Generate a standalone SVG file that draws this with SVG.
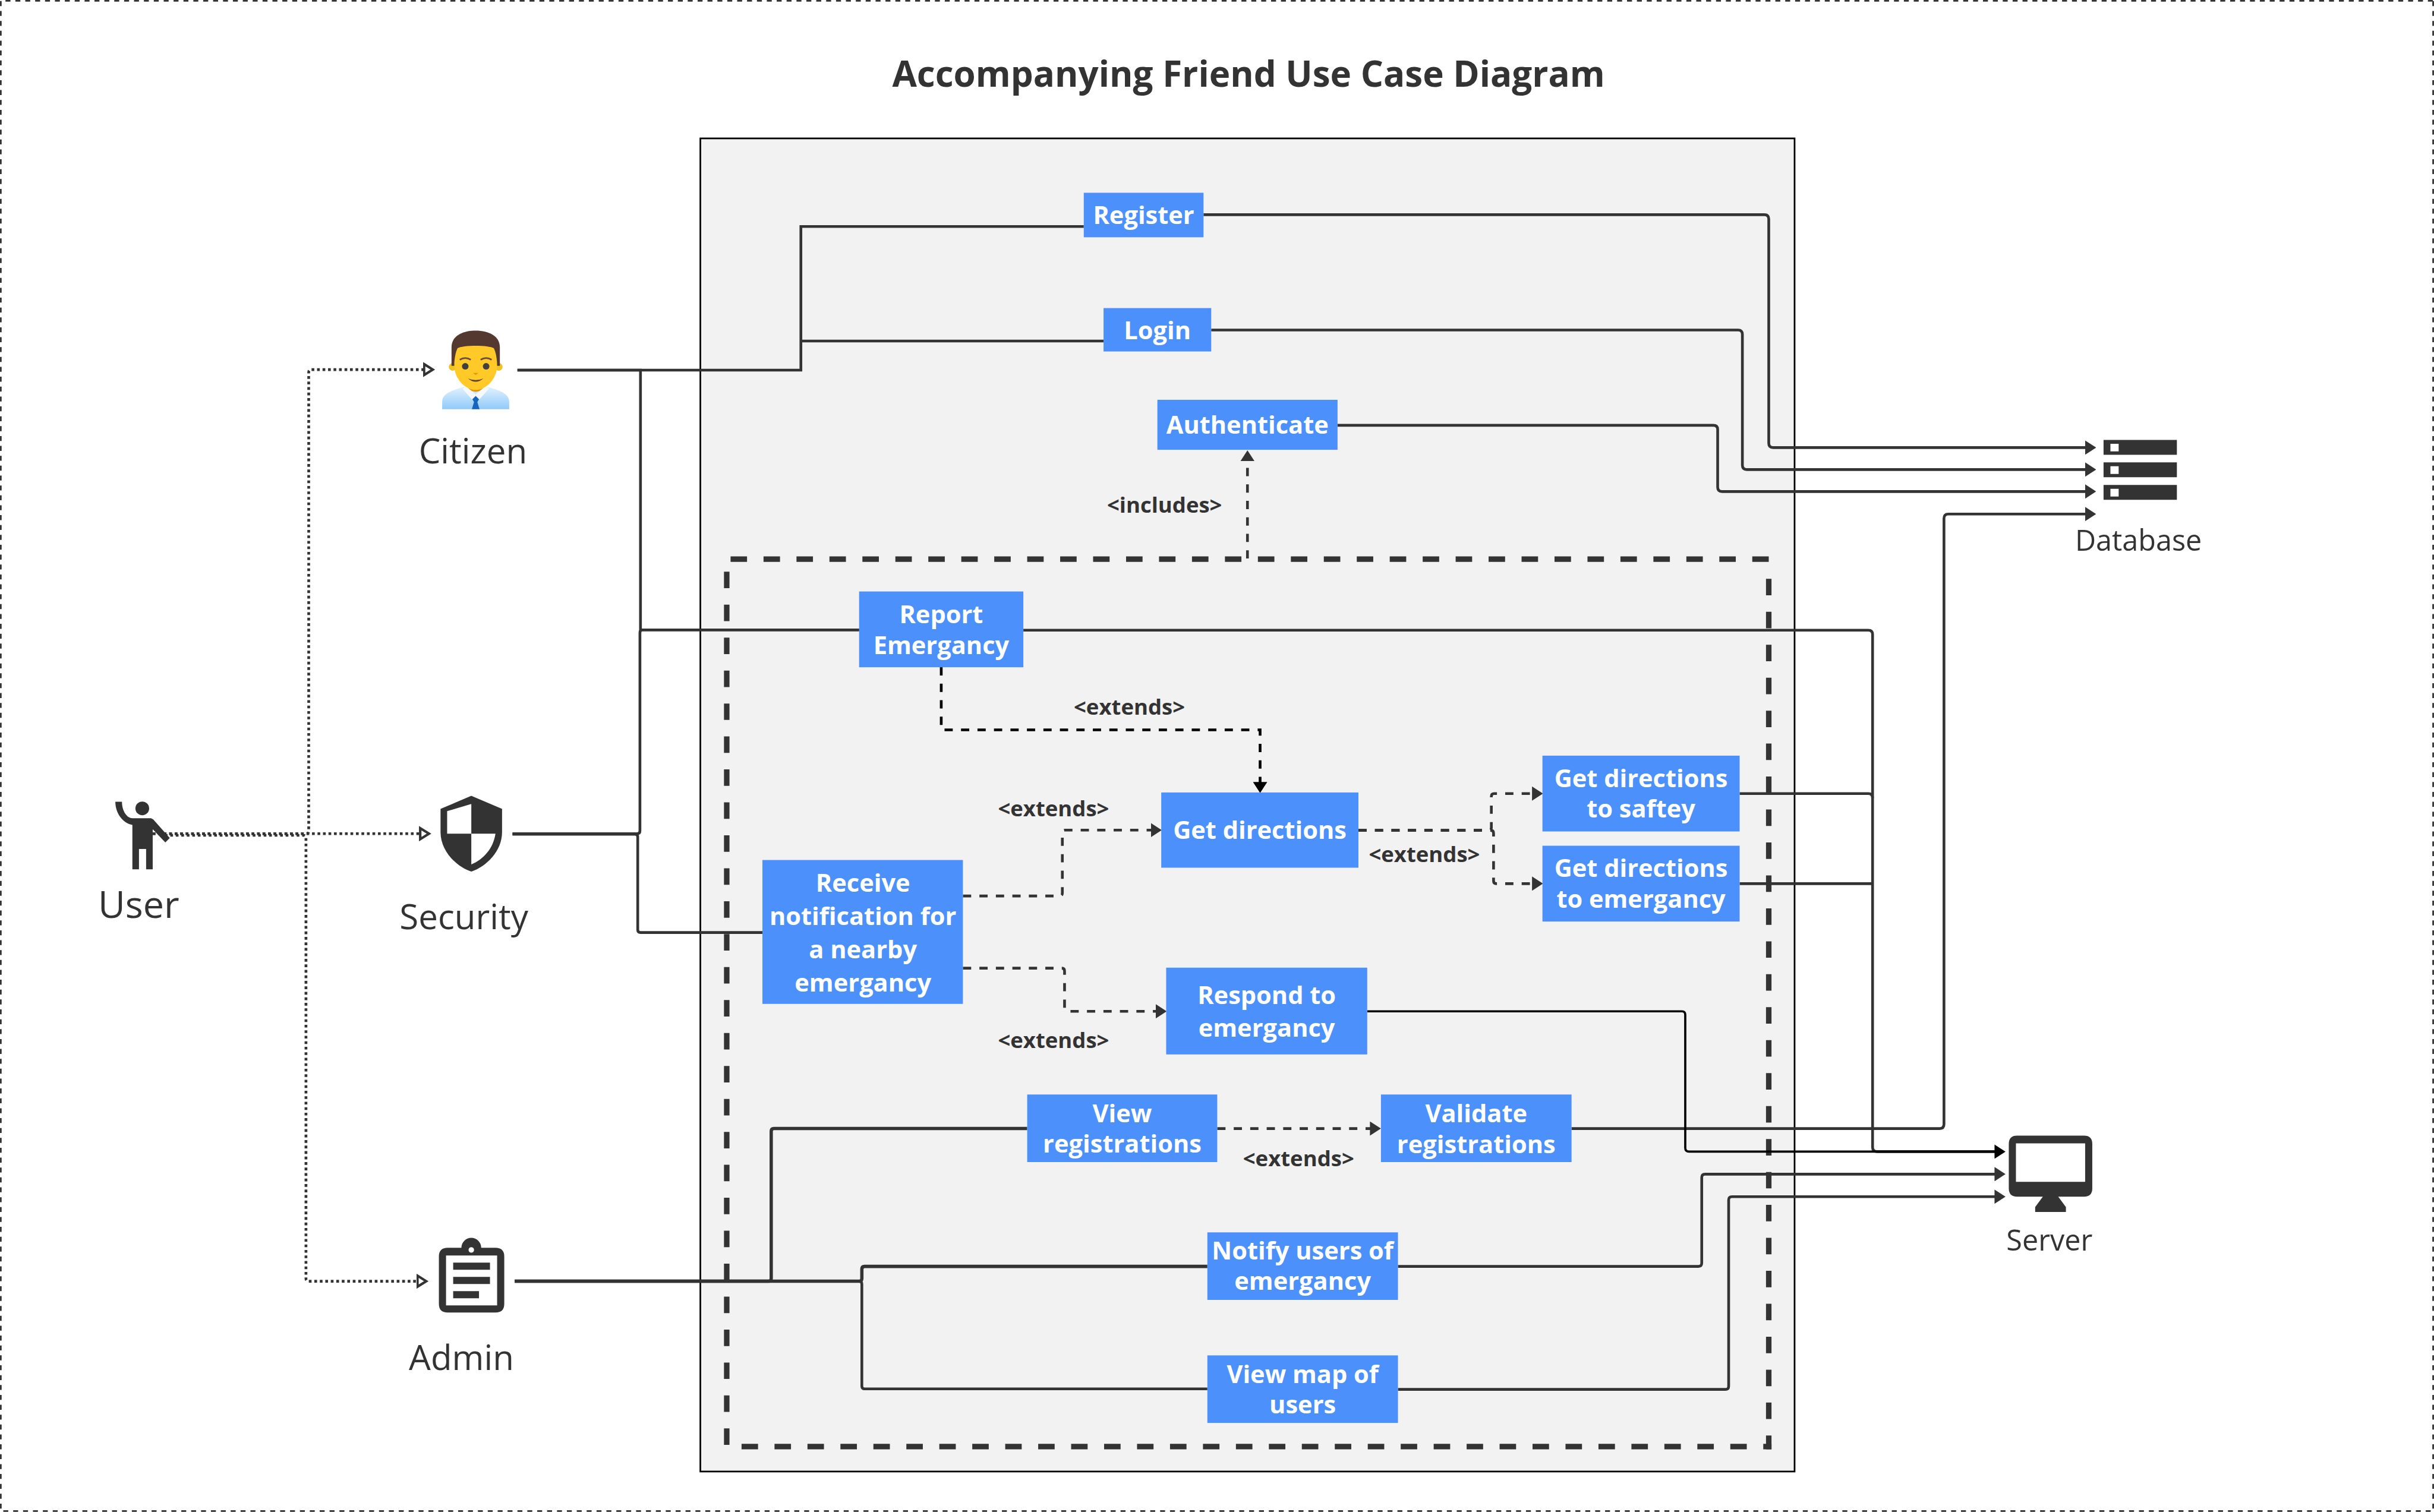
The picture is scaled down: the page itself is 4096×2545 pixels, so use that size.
<svg xmlns="http://www.w3.org/2000/svg" width="4096" height="2545" viewBox="0 0 4096 2545">
<style>
text{font-family:"Open Sans","Noto Sans","Liberation Sans",sans-serif;text-anchor:middle}
.title{font-size:65px;font-weight:700;fill:#333}
.actor{font-size:63px;fill:#333}
.res{font-size:52.5px;fill:#333}
.uc{font-size:45px;font-weight:700;fill:#fff}
.rel{font-size:39.5px;font-weight:700;fill:#333}
.box{fill:#4c91fb}
.ink{fill:#333}
.c{fill:none;stroke:#333;stroke-width:5}
.a{marker-end:url(#tri)}
.k{stroke:#000;marker-end:url(#triK)}
.d{stroke-dasharray:15 15}
.o{stroke-dasharray:5 5;marker-end:url(#hollow)}
.fr{fill:none;stroke:#333;stroke-width:3;stroke-dasharray:9 9}
.bd{fill:none;stroke:#333;stroke-width:10;stroke-dasharray:30 30}
</style>
<defs>
<marker id="tri" markerUnits="userSpaceOnUse" markerWidth="20" markerHeight="26" viewBox="0 0 20 26" refX="5" refY="13" orient="auto"><path d="M0,0L20,13L0,26Z" fill="#333"/></marker>
<marker id="triK" markerUnits="userSpaceOnUse" markerWidth="20" markerHeight="26" viewBox="0 0 20 26" refX="5" refY="13" orient="auto"><path d="M0,0L20,13L0,26Z" fill="#000"/></marker>
<marker id="hollow" markerUnits="userSpaceOnUse" markerWidth="22" markerHeight="28" viewBox="0 0 22 28" refX="1" refY="14" orient="auto"><path d="M2,4L18,14L2,24Z" fill="#fff" stroke="#333" stroke-width="4.5"/></marker>
<linearGradient id="shirt" x1="0" y1="0" x2="0" y2="1"><stop offset="0" stop-color="#e3f2fd"/><stop offset="1" stop-color="#90caf9"/></linearGradient>
</defs>
<g transform="scale(0.92438)">
<rect width="4431" height="2753" fill="#fff"/>
<g id="frame">
<path class="fr" d="M10,1.5H4431"/><path class="fr" d="M1.5,2V2753"/>
<path class="fr" d="M4429.5,2V2753"/><path class="fr" d="M6,2751.5H4431"/>
</g>
<text class="title" x="2273" y="158">Accompanying Friend Use Case Diagram</text>
<g id="system">
<rect x="1275" y="252" width="1992" height="2427.5" fill="#f2f2f2" stroke="#000" stroke-width="3"/>
<path class="bd" d="M1330,1018H3225"/><path class="bd" d="M1323,1041V2639"/>
<path class="bd" d="M3220,1054V2639"/><path class="bd" d="M1350,2634H3225"/>
</g>
<g id="connectors">
<path class="c o" d="M278,1518H557Q562,1518 562,1513V678Q562,673 567,673H771"/>
<path class="c o" d="M278,1518H764"/>
<path class="c o" d="M300,1521H552Q557,1521 557,1526V2328Q557,2333 562,2333H759"/>
<path class="c" d="M942,674H1458V412.500H1973M1458,621H2009"/>
<path class="c" d="M942,674H1166V1147H1564"/>
<path class="c" d="M933,1518H1160Q1165,1518 1165,1513V1152Q1165,1147 1170,1147H1564"/>
<path class="c" d="M933,1519H1156Q1161,1519 1161,1524V1693Q1161,1698 1166,1698H1388"/>
<path class="c" style="stroke-width:6" d="M937,2333H1399Q1404,2333 1404,2328V2060Q1404,2055 1409,2055H1870"/>
<path class="c" style="stroke-width:6" d="M937,2333H1564Q1569,2333 1569,2328V2311Q1569,2306 1574,2306H2198"/>
<path class="c" d="M1400,2333H1564Q1569,2333 1569,2338V2524Q1569,2529 1574,2529H2198"/>
<path class="c a" d="M2191,391H3212Q3220,391 3220,399V807Q3220,815 3228,815H3801"/>
<path class="c a" d="M2205,601H3164Q3172,601 3172,609V847Q3172,855 3180,855H3801"/>
<path class="c a" d="M2435,774.500H3119Q3127,774.500 3127,782V887Q3127,895 3135,895H3801"/>
<path class="c a" d="M2861,2055H3531Q3539,2055 3539,2047V944Q3539,936 3547,936H3801"/>
<path class="c" d="M1863,1147.500H3401Q3409,1147.500 3409,1155V2089Q3409,2097 3417,2097H3636"/>
<path class="c" d="M3167,1445H3401Q3409,1445 3409,1453"/>
<path class="c" d="M3167,1609H3409"/>
<path class="c k" style="stroke-width:4" d="M2489,1841.500H3062Q3068,1841.500 3068,1848V2090Q3068,2097 3075,2097H3636"/>
<path class="c a" d="M2545,2306H3092Q3098,2306 3098,2300V2144Q3098,2138 3104,2138H3636"/>
<path class="c a" d="M2545,2530H3141Q3147,2530 3147,2524V2185Q3147,2179 3153,2179H3636"/>
<path class="c d a" d="M2271,1017V835"/>
<path class="c d k" d="M1713.500,1215V1329H2294V1429"/>
<path class="c d a" d="M1753,1631.500H1929Q1934,1631.500 1934,1626V1517Q1934,1511.500 1939,1511.500H2100"/>
<path class="c d a" d="M1753,1763H1933Q1938,1763 1938,1768V1836Q1938,1841.500 1943,1841.500H2109"/>
<path class="c d a" d="M2473,1512H2710Q2715,1512 2715,1507V1450Q2715,1445 2720,1445H2794"/>
<path class="c d a" d="M2473,1512H2714Q2719,1512 2719,1517V1604Q2719,1609 2724,1609H2794"/>
<path class="c d a" d="M2216,2055H2499"/>
</g>
<g id="user">
<path class="ink" d="M241,1490H275L279,1492L309,1526L301,1534L278,1510V1583H266V1546H253V1583H241V1502C225,1500 210,1482 210,1460H222C222,1478 232,1490 241,1490Z"/>
<circle class="ink" cx="259" cy="1472" r="12.500"/>
<text class="actor" style="font-size:68px" x="252.500" y="1671">User</text>
</g>
<g id="citizen">
<path d="M805,745V731C805,716 825,710 846,704L866,712L886,704C907,710 927,716 927,731V745Z" fill="url(#shirt)"/>
<path d="M847,703L866,718L885,703L890,708L873,727H859L842,708Z" fill="#f5f9fd"/>
<path d="M851,690H881V705Q866,722 851,705Z" fill="#e59600"/>
<path d="M866,721L872,727L869,732L873,745H859L863,732L860,727Z" fill="#1565c0"/>
<circle cx="824" cy="668" r="7" fill="#edc422"/><circle cx="908" cy="668" r="7" fill="#edc422"/>
<path d="M827,640C827,620 905,620 905,640V665C905,690 885,710 866,710C847,710 827,690 827,665Z" fill="#ffca28"/>
<path d="M822,666V632C822,612 842,602 866,602C890,602 910,612 910,632V666H905C905,655 903,642 899,634C890,628 842,628 833,634C829,642 827,655 827,666Z" fill="#543930"/>
<circle cx="847" cy="667" r="6" fill="#404040"/><circle cx="885" cy="667" r="6" fill="#404040"/>
<path d="M837,655Q847,649 857,655M875,655Q885,649 895,655" fill="none" stroke="#6d4c41" stroke-width="3"/>
<path d="M852,689Q866,695 880,689Q866,701 852,689Z" fill="#5d4037"/>
<path d="M861,679H871L866,683Z" fill="#e59600"/>
<text class="actor" x="861" y="844">Citizen</text>
</g>
<g id="security">
<path class="ink" d="M858,1449L914,1473V1515C914,1550 885,1578 858,1587C831,1578 802,1550 802,1515V1473Z"/>
<path d="M814,1477L858,1464V1518H814ZM858,1518H902C898,1545 880,1565 858,1574Z" fill="#fff"/>
<text class="actor" x="844.500" y="1692">Security</text>
</g>
<g id="admin">
<path class="ink" fill-rule="evenodd" d="M815,2272H840A18,18 0 0 1 876,2272H902Q918,2272 918,2288V2374Q918,2390 902,2390H815Q799,2390 799,2374V2288Q799,2272 815,2272ZM812,2286V2377H905V2286ZM858,2271A5,5 0 1 0 858,2281A5,5 0 1 0 858,2271Z"/>
<path class="ink" d="M825,2299H892V2312H825ZM825,2325H892V2338H825ZM825,2351H872V2364H825Z"/>
<text class="actor" x="840" y="2495">Admin</text>
</g>
<g id="database">
<path class="ink" fill-rule="evenodd" d="M3829.500,801H3963V828H3829.500ZM3842,808V822H3857V808ZM3829.500,842H3963V869H3829.500ZM3842,849V863H3857V849ZM3829.500,883H3963V910H3829.500ZM3842,890V904H3857V890Z"/>
<text class="res" x="3893" y="1003">Database</text>
</g>
<g id="server">
<path class="ink" fill-rule="evenodd" d="M3672,2068H3794Q3809,2068 3809,2083V2164Q3809,2179 3794,2179H3747L3761,2198V2207H3705V2198L3719,2179H3672Q3657,2179 3657,2164V2083Q3657,2068 3672,2068ZM3670,2082V2152H3796V2082Z"/>
<text class="res" x="3731" y="2277">Server</text>
</g>
<g id="uc-register"><rect class="box" x="1973" y="351" width="218" height="81"/><text class="uc" x="2082" y="408">Register</text></g>
<g id="uc-login"><rect class="box" x="2009" y="561" width="196" height="79"/><text class="uc" x="2107" y="618">Login</text></g>
<g id="uc-authenticate"><rect class="box" x="2107" y="728" width="328" height="91"/><text class="uc" x="2271" y="790">Authenticate</text></g>
<g id="uc-report"><rect class="box" x="1564" y="1077" width="299" height="138"/><text class="uc" x="1713.500" y="1135">Report</text><text class="uc" x="1713.500" y="1191">Emergancy</text></g>
<g id="uc-receive"><rect class="box" x="1388" y="1566" width="365" height="262"/><text class="uc" x="1571" y="1624">Receive</text><text class="uc" x="1571" y="1684">notification for</text><text class="uc" x="1571" y="1745">a nearby</text><text class="uc" x="1571" y="1805">emergancy</text></g>
<g id="uc-directions"><rect class="box" x="2114" y="1443" width="359" height="137"/><text class="uc" x="2293.500" y="1528">Get directions</text></g>
<g id="uc-safety"><rect class="box" x="2808" y="1376" width="359" height="138"/><text class="uc" x="2987.500" y="1433">Get directions</text><text class="uc" x="2987.500" y="1489">to saftey</text></g>
<g id="uc-to-emergency"><rect class="box" x="2808" y="1540" width="359" height="138"/><text class="uc" x="2987.500" y="1597">Get directions</text><text class="uc" x="2987.500" y="1653">to emergancy</text></g>
<g id="uc-respond"><rect class="box" x="2123" y="1762" width="366" height="158"/><text class="uc" x="2306" y="1828">Respond to</text><text class="uc" x="2306" y="1888">emergancy</text></g>
<g id="uc-view"><rect class="box" x="1870" y="1993" width="346" height="123"/><text class="uc" x="2043" y="2043">View</text><text class="uc" x="2043" y="2099">registrations</text></g>
<g id="uc-validate"><rect class="box" x="2514" y="1993" width="347" height="123"/><text class="uc" x="2687.500" y="2044">Validate</text><text class="uc" x="2687.500" y="2100">registrations</text></g>
<g id="uc-notify"><rect class="box" x="2198" y="2244" width="347" height="123"/><text class="uc" x="2371.500" y="2293">Notify users of</text><text class="uc" x="2371.500" y="2349">emergancy</text></g>
<g id="uc-map"><rect class="box" x="2198" y="2468" width="347" height="123"/><text class="uc" x="2371.500" y="2518">View map of</text><text class="uc" x="2371.500" y="2574">users</text></g>
<g id="relation-labels">
<text class="rel" x="2120" y="934">&lt;includes&gt;</text>
<text class="rel" x="2056" y="1301">&lt;extends&gt;</text>
<text class="rel" x="1918" y="1486">&lt;extends&gt;</text>
<text class="rel" x="2593" y="1570">&lt;extends&gt;</text>
<text class="rel" x="1918" y="1908">&lt;extends&gt;</text>
<text class="rel" x="2364" y="2124">&lt;extends&gt;</text>
</g>
</g>
</svg>
